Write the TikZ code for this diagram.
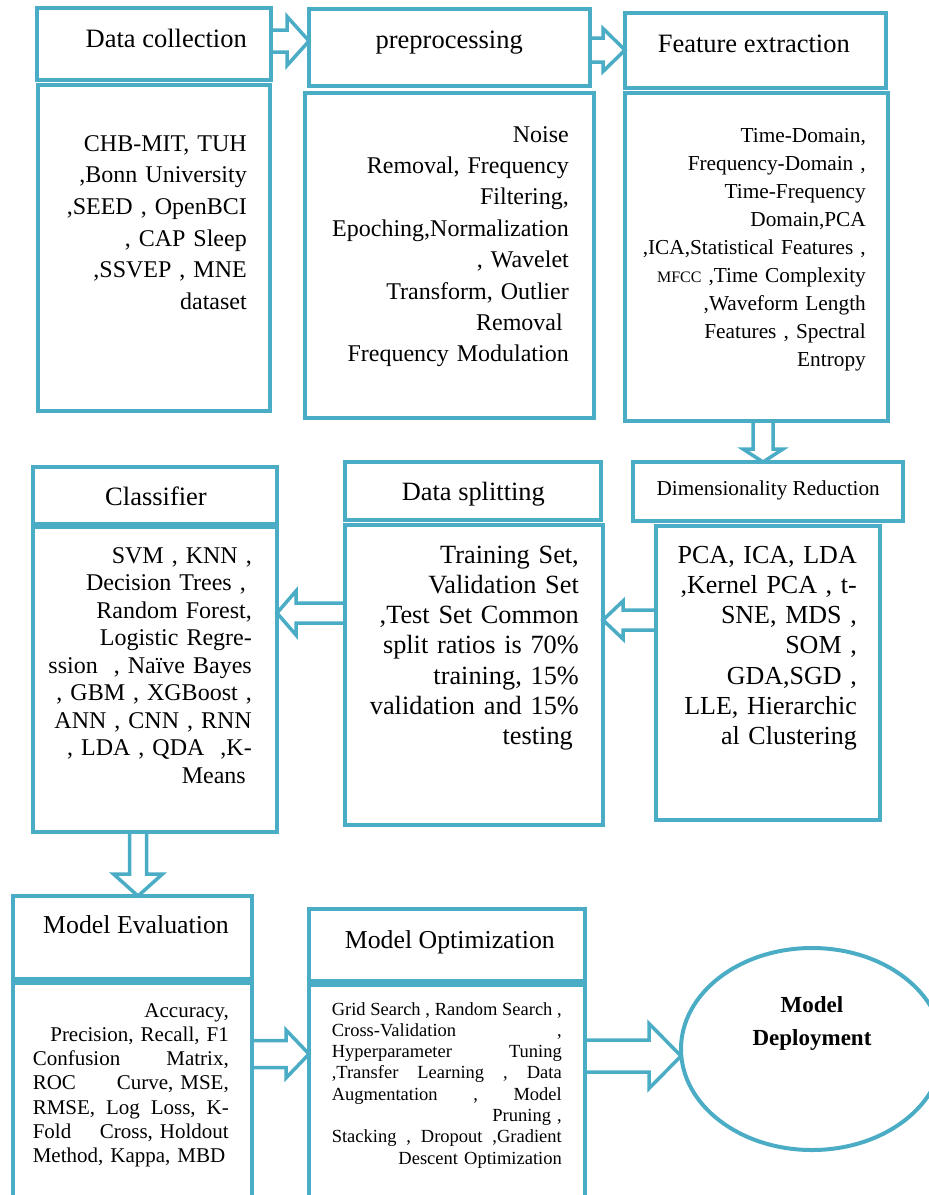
\documentclass[tikz,border=0pt]{standalone}
\usepackage{fontspec}
\setmainfont{Liberation Serif}
\usetikzlibrary{calc,shapes.geometric}
\definecolor{teal5}{RGB}{75,172,198}
\tikzset{
  box/.style={draw=teal5, line width=4pt, rectangle, inner sep=0pt, outer sep=0pt, anchor=north west},
  blk/.style={draw=teal5, line width=3.5pt, line join=miter},
  ttl/.style={anchor=base east, inner sep=0pt, font=\fontsize{#1}{30}\selectfont},
  bodytxt/.style={anchor=base east, inner sep=0pt, text width=#1, align=right},
}
\newcommand\rarr[5]{\draw[blk] ($(#1)+(0,-#3)$) -- ($(#2)+(-#5,-#3)$) -- ($(#2)+(-#5,-#4)$) -- (#2) -- ($(#2)+(-#5,#4)$) -- ($(#2)+(-#5,#3)$) -- ($(#1)+(0,#3)$);}
\newcommand\larr[5]{\draw[blk] ($(#1)+(0,-#3)$) -- ($(#2)+(#5,-#3)$) -- ($(#2)+(#5,-#4)$) -- (#2) -- ($(#2)+(#5,#4)$) -- ($(#2)+(#5,#3)$) -- ($(#1)+(0,#3)$);}
\newcommand\darr[5]{\draw[blk] ($(#1)+(-#3,0)$) -- ($(#2)+(-#3,-#5)$) -- ($(#2)+(-#4,-#5)$) -- (#2) -- ($(#2)+(#4,-#5)$) -- ($(#2)+(#3,-#5)$) -- ($(#1)+(#3,0)$);}
\newcommand\jme[1]{\leavevmode\hbox to 196pt{#1}}
\newcommand\jmo[1]{\leavevmode\hbox to 230pt{#1}}
\begin{document}
\begin{tikzpicture}[x=1pt,y=-1pt]
\useasboundingbox (0,0) rectangle (929,1195);
\clip (0,0) rectangle (929,1195);
% boxes
\node[box, minimum width=234pt, minimum height=72pt] (dch) at (37,8) {};
\node[box, minimum width=232pt, minimum height=326pt] (dcb) at (38,85) {};
\node[box, minimum width=281pt, minimum height=77pt] (pph) at (309,9) {};
\node[box, minimum width=289pt, minimum height=325pt] (ppb) at (305,93) {};
\node[box, minimum width=261pt, minimum height=75pt] (feh) at (625,13) {};
\node[box, minimum width=263pt, minimum height=328pt] (feb) at (625,93) {};
\node[box, minimum width=270pt, minimum height=59pt] (drh) at (633,462) {};
\node[box, minimum width=224pt, minimum height=294pt] (drb) at (656,526) {};
\node[box, minimum width=256pt, minimum height=58pt] (dsh) at (345,462) {};
\node[box, minimum width=258pt, minimum height=300pt] (dsb) at (345,525) {};
\node[box, minimum width=244pt, minimum height=57pt] (clh) at (33,467) {};
\node[box, minimum width=244pt, minimum height=305pt] (clb) at (33,527) {};
\node[box, minimum width=239pt, minimum height=83pt] (meh) at (13,896) {};
\node[box, minimum width=239pt, minimum height=240pt] (meb) at (13,983) {};
\node[box, minimum width=276pt, minimum height=72pt] (moh) at (309,909) {};
\node[box, minimum width=276pt, minimum height=240pt] (mob) at (309,985) {};
\node[ellipse, draw=teal5, line width=4pt, minimum width=262pt, minimum height=202pt, inner sep=0pt, outer sep=0pt] (dep) at (812,1049) {};
% titles
\node[ttl=26.5] (dct) at (247,47) {Data collection};
\node[ttl=26.5] (ppt) at (523,48) {preprocessing};
\node[ttl=26.5] (fet) at (850,52) {Feature extraction};
\node[ttl=21.2] (drt) at (880,495) {Dimensionality Reduction};
\node[ttl=26.4] (dst) at (545,500) {Data splitting};
\node[ttl=26.5] (clt) at (207,505) {Classifier};
\node[ttl=25.8] (met) at (229,933) {Model Evaluation};
\node[ttl=25.8] (mot) at (555,948) {Model Optimization};
% bodies
\node[bodytxt=220pt, font=\fontsize{24}{31.7}\selectfont] (dcx) at (247,151)
 {CHB-MIT, TUH\\,Bonn University\\,SEED , OpenBCI\\, CAP Sleep\\,SSVEP , MNE\\dataset};
\node[bodytxt=270pt, font=\fontsize{24}{31.4}\selectfont] (ppx) at (569,142)
 {Noise\\Removal, Frequency\\Filtering,\\Epoching,Normalization\\, Wavelet\\Transform, Outlier\\Removal\kern6pt\\Frequency Modulation};
\node[bodytxt=250pt, font=\fontsize{21.3}{28.1}\selectfont] (fex) at (866,142)
 {Time-Domain,\\Frequency-Domain ,\\Time-Frequency\\Domain,PCA\\,ICA,Statistical Features ,\\{\fontsize{16}{20}\selectfont MFCC} ,Time Complexity\\,Waveform Length\\Features , Spectral\\Entropy};
\node[bodytxt=210pt, font=\fontsize{26}{30.3}\selectfont] (drx) at (857,563)
 {PCA, ICA, LDA\\,Kernel PCA , t-\\SNE, MDS ,\\SOM ,\\GDA,SGD ,\\LLE, Hierarchic\\al Clustering};
\node[bodytxt=240pt, font=\fontsize{26.3}{30.3}\selectfont] (dsx) at (579,563)
 {Training Set,\\Validation Set\\,Test Set Common\\split ratios is 70\%\\training, 15\%\\validation and 15\%\\testing\kern6pt};
\node[bodytxt=230pt, font=\fontsize{24}{27.5}\selectfont] (clx) at (252,563)
 {SVM , KNN ,\\Decision Trees ,\kern6pt\\Random Forest,\\Logistic Regre-\\ssion\ \ , Naïve Bayes\\, GBM , XGBoost ,\\ANN , CNN , RNN\\, LDA , QDA\ \ ,K-\\Means\kern6pt};
\node[bodytxt=196pt, font=\fontsize{21}{24.3}\selectfont] (mex) at (229,1017)
 {Accuracy,\\Precision, Recall, F1\\\jme{Confusion\hfill Matrix,}\\\jme{ROC\hfill Curve, MSE,}\\\jme{RMSE,\hfill Log\hfill Loss,\hfill K-}\\\jme{Fold\hfill Cross, Holdout}\\\jme{Method, Kappa, MBD\hfill}};
\node[bodytxt=230pt, font=\fontsize{18.5}{21.3}\selectfont] (mox) at (562,1015)
 {\jmo{Grid\hfill Search\hfill ,\hfill Random\hfill Search\hfill ,}\\\jmo{Cross-Validation\hfill ,}\\\jmo{Hyperparameter\hfill Tuning}\\\jmo{,Transfer\hfill Learning\hfill ,\hfill Data}\\\jmo{Augmentation\hfill ,\hfill Model}\\Pruning ,\\\jmo{Stacking\hfill ,\hfill Dropout\hfill ,Gradient}\\Descent Optimization};
\node[anchor=base, inner sep=0pt, text width=200pt, align=center, font=\fontsize{23}{33}\selectfont\bfseries] (dept) at (812,1012) {Model\\Deployment};
% block arrows
\rarr{dch.east |- 0,41}{pph.west |- 0,41}{11}{24.5}{22}
\rarr{pph.east |- 0,50}{feh.west |- 0,50}{12}{21.5}{22}
\darr{feb.south -| 763,0}{drh.north -| 763,0}{10}{20}{13}
\larr{drb.west |- 0,620}{dsb.east |- 0,620}{10}{19}{20}
\larr{dsb.west |- 0,613}{clb.east |- 0,613}{10}{22}{19}
\darr{clb.south -| 138,0}{meh.north -| 138,0}{8.5}{24.5}{22}
\rarr{meb.east |- 0,1054}{mob.west |- 0,1054}{13.5}{24}{23}
\rarr{mob.east |- 0,1056}{dep.west |- 0,1056}{16}{32.5}{32}
\end{tikzpicture}
\end{document}
